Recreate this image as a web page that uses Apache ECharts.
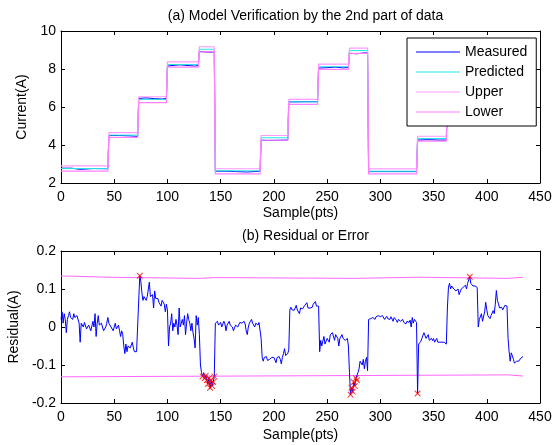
<!DOCTYPE html>
<html>
<head>
<meta charset="utf-8">
<script src="https://cdn.jsdelivr.net/npm/echarts/dist/echarts.min.js"></script>
<style>
html,body{margin:0;padding:0;background:#fff;}
#chart{width:555px;height:445px;}
</style>
</head>
<body>
<div id="chart"></div>
<script>
// ---------- Data (a): current ----------
var stepX = [0,44,45,72,73,99,100,129,130,144,145,187,188,213,214,241,242,270,271,288,289,334,335,362,363,390,391,419,420,434];
var predicted = [2.76,2.76,4.52,4.52,6.4,6.4,8.24,8.24,9.04,9.04,2.64,2.64,4.38,4.38,6.27,6.27,8.12,8.12,8.97,8.97,2.62,2.62,4.34,4.34,6.25,6.25,8.08,8.08,8.95,8.95];
var upper = [2.9,2.9,4.65,4.65,6.54,6.54,8.38,8.38,9.17,9.17,2.75,2.75,4.5,4.5,6.4,6.4,8.26,8.26,9.1,9.1,2.74,2.74,4.46,4.46,6.38,6.38,8.2,8.2,9.08,9.08];
var lower = [2.62,2.62,4.4,4.4,6.23,6.23,8.1,8.1,8.9,8.9,2.48,2.48,4.25,4.25,6.14,6.14,7.98,7.98,8.82,8.82,2.48,2.48,4.2,4.2,6.12,6.12,7.95,7.95,8.82,8.82];
var measured = [[0,2.78],[10,2.78],[18,2.72],[30,2.76],[44,2.75],
 [45,4.5],[55,4.5],[65,4.48],[72,4.45],
 [73,6.45],[80,6.48],[88,6.44],[95,6.42],[99,6.45],
 [100,8.15],[107,8.2],[112,8.22],[120,8.18],[126,8.15],[129,8.2],
 [130,8.92],[135,8.9],[140,8.88],[144,8.9],
 [145,2.62],[155,2.62],[165,2.6],[175,2.58],[187,2.62],
 [188,4.25],[195,4.24],[205,4.25],[213,4.26],
 [214,6.27],[222,6.27],[230,6.28],[241,6.28],
 [242,8.05],[250,8.07],[258,8.1],[265,8.06],[270,8.08],
 [271,8.83],[278,8.8],[285,8.85],[288,8.85],
 [289,2.6],[300,2.6],[315,2.6],[334,2.6],
 [335,4.26],[345,4.28],[355,4.26],[362,4.26],
 [363,6.3],[380,6.32],[390,6.3],
 [391,8.05],[405,8.1],[419,8.05],
 [420,8.87],[434,8.87]];

// ---------- Data (b): residual ----------
var residual = [[0,0.02],[1,0.04],[2,0.01],[3,0.035],[4,0.02],[5,-0.015],[6,0.02],[7,0.03],[8,0.04],[9,0.025],[10,0.03],[11,0.02],[12,0.035],[13,0.025],[14,0.02],[15,0.03],[16,0.035],[17,0.01],[18,-0.04],[19,0.01],[20,0.005],[21,0.0],[22,0.012],[23,0.01],[24,-0.005],[25,-0.01],[26,0.005],[27,0.0],[28,-0.01],[29,-0.005],[30,0.015],[31,0.0],[32,0.035],[33,-0.025],[34,0.01],[35,0.03],[36,0.005],[37,0.0],[38,0.01],[39,0.005],[40,-0.01],[41,-0.005],[42,0.0],[43,0.01],[44,0.025],[45,0.01],[46,0.015],[47,0.0],[48,0.005],[49,-0.01],[50,-0.015],[51,0.01],[52,-0.005],[53,0.0],[54,0.005],[55,-0.01],[56,-0.025],[57,-0.01],[58,-0.02],
 [59,-0.05],[60,-0.07],[61,-0.045],[62,-0.065],[63,-0.05],[64,-0.045],[65,-0.055],[66,-0.06],[67,-0.04],[68,-0.055],[69,-0.065],[70,-0.06],[71,-0.065],[72,-0.06],
 [74,0.135],[75,0.12],[76,0.09],[77,0.07],[78,0.08],[79,0.075],[80,0.07],[81,0.08],[82,0.075],[83,0.118],[84,0.08],[85,0.075],[86,0.085],[87,0.05],[88,0.095],[89,0.075],[90,0.07],[91,0.075],[92,0.065],[93,0.07],[94,0.055],[95,0.07],[96,0.065],[97,0.06],[98,0.04],[99,0.06],
 [100,0.045],[101,-0.05],[102,0.0],[103,0.01],[104,0.035],[105,-0.01],[106,0.01],[107,0.0],[108,0.02],[109,0.005],[110,-0.02],[111,0.05],[112,0.0],[113,0.01],[114,0.02],[115,0.005],[116,0.03],[117,-0.02],[118,0.01],[119,0.035],[120,0.02],[121,0.01],[122,-0.01],[123,0.01],[124,-0.015],[125,-0.03],[126,-0.055],[127,0.03],[128,0.005],[129,0.025],
 [130,-0.02],[131,-0.1],[132,-0.12],[133,-0.13],[134,-0.12],[135,-0.135],[136,-0.128],[137,-0.14],[138,-0.15],[139,-0.135],[140,-0.16],[141,-0.14],[142,-0.155],[143,-0.145],[144,-0.13],
 [145,0.01],[146,0.012],[147,0.015],[148,0.005],[149,0.01],[150,0.012],[151,0.0],[152,0.005],[153,0.015],[154,0.008],[155,-0.01],[156,0.005],[157,0.01],[158,0.015],[159,0.005],[160,0.01],[161,0.0],[162,-0.01],[163,-0.015],[164,0.005],[165,0.01],[166,0.0],[167,0.005],[168,0.012],[169,0.015],[170,0.01],[171,0.005],[172,0.015],[173,0.008],[174,-0.01],[175,-0.02],[176,0.0],[177,0.01],[178,0.015],[179,0.02],[180,0.01],[181,0.005],[182,0.0],[183,0.01],[184,0.015],[185,0.005],[186,0.012],[187,0.008],
 [188,-0.03],[189,-0.08],[190,-0.09],[191,-0.08],[192,-0.085],[193,-0.078],[194,-0.088],[195,-0.09],[196,-0.085],[197,-0.09],[198,-0.08],[199,-0.075],[200,-0.08],[201,-0.085],[202,-0.094],[203,-0.08],[204,-0.085],[205,-0.078],[206,-0.085],[207,-0.097],[208,-0.08],[209,-0.07],[210,-0.057],[211,-0.075],[212,-0.08],[213,-0.07],[214,-0.06],
 [215,0.045],[216,0.052],[217,0.045],[218,0.05],[219,0.044],[220,0.05],[221,0.057],[222,0.045],[223,0.05],[224,0.035],[225,0.05],[226,0.055],[227,0.048],[228,0.05],[229,0.057],[230,0.055],[231,0.064],[232,0.05],[233,0.055],[234,0.05],[235,0.055],[236,0.052],[237,0.06],[238,0.058],[239,0.067],[240,0.055],[241,0.06],[242,0.055],
 [243,-0.065],[244,-0.035],[245,-0.05],[246,-0.055],[247,-0.025],[248,-0.045],[249,-0.05],[250,-0.03],[251,-0.035],[252,-0.04],[253,-0.02],[254,-0.025],[255,-0.015],[256,-0.01],[257,-0.035],[258,-0.02],[259,-0.015],[260,-0.03],[261,-0.05],[262,-0.03],[263,-0.025],[264,-0.02],[265,-0.03],[266,-0.025],[267,-0.035],[268,-0.04],[269,-0.03],[270,-0.05],
 [271,-0.12],[272,-0.178],[273,-0.16],[274,-0.17],[275,-0.145],[276,-0.155],[277,-0.135],[278,-0.14],[279,-0.12],[280,-0.11],[281,-0.09],[282,-0.085],[283,-0.1],[284,-0.085],[285,-0.11],[286,-0.09],[287,-0.08],[288,-0.115],
 [289,0.02],[290,0.018],[291,0.022],[292,0.02],[293,0.025],[294,0.022],[295,0.02],[296,0.027],[297,0.025],[298,0.03],[299,0.025],[300,0.027],[301,0.022],[302,0.03],[303,0.025],[304,0.02],[305,0.025],[306,0.028],[307,0.022],[308,0.025],[309,0.02],[310,0.027],[311,0.022],[312,0.015],[313,0.025],[314,0.02],[315,0.018],[316,0.012],[317,0.02],[318,0.022],[319,0.015],[320,0.018],[321,0.02],[322,0.012],[323,0.015],[324,0.008],[325,0.015],[326,0.02],[327,0.012],[328,0.018],[329,0.0],[330,0.025],[331,0.01],[332,0.02],[333,0.015],[334,0.012],
 [335,-0.175],[336,-0.045],[337,-0.04],[338,-0.038],[339,-0.03],[340,-0.025],[341,-0.015],[342,-0.02],[343,-0.03],[344,-0.025],[345,-0.02],[346,-0.035],[347,-0.04],[348,-0.03],[349,-0.036],[350,-0.03],[351,-0.04],[352,-0.035],[353,-0.03],[354,-0.04],[355,-0.045],[356,-0.04],[357,-0.035],[358,-0.04],[359,-0.045],[360,-0.04],[361,-0.045],[362,-0.045],
 [363,0.05],[364,0.105],[365,0.115],[366,0.1],[367,0.108],[368,0.11],[369,0.1],[370,0.105],[371,0.095],[372,0.09],[373,0.1],[374,0.085],[375,0.09],[376,0.1],[377,0.095],[378,0.105],[379,0.1],[380,0.11],[381,0.1],[382,0.115],[383,0.12],[384,0.132],[385,0.115],[386,0.11],[387,0.108],[388,0.105],[389,0.108],[390,0.105],[391,0.104],
 [392,0.0],[393,0.02],[394,0.025],[395,0.035],[396,0.015],[397,0.02],[398,0.04],[399,0.065],[400,0.045],[401,0.03],[402,0.025],[403,0.022],[404,0.03],[405,0.035],[406,0.043],[407,0.035],[408,0.06],[409,0.096],[410,0.07],[411,0.061],[412,0.05],[413,0.048],[414,0.052],[415,0.045],[416,0.043],[417,0.057],[418,0.052],[419,0.055],
 [420,-0.03],[421,-0.065],[422,-0.09],[423,-0.068],[424,-0.075],[425,-0.085],[426,-0.095],[427,-0.097],[428,-0.09],[429,-0.085],[430,-0.09],[431,-0.088],[432,-0.082],[433,-0.08],[434,-0.078]];
var resUpper = [[0,0.134],[8,0.134],[9,0.131],[44,0.131],[45,0.128],[128,0.128],[129,0.13],[145,0.13],[146,0.128],[276,0.128],[277,0.131],[335,0.131],[336,0.128],[420,0.128],[421,0.131],[434,0.131]];
var resLower = [[0,-0.131],[8,-0.131],[9,-0.126],[420,-0.126],[421,-0.129],[434,-0.129]];
var alarmHigh = 0.128, alarmLow = -0.125;

// ---------- Ticks / labels ----------
var xTicks = {min: 0, max: 450, interval: 50};
var y1Ticks = {min: 2, max: 10, interval: 2};
var y2Ticks = {min: -0.2, max: 0.2, interval: 0.1};
var titles = ['(a) Model Verification by the 2nd part of data', '(b) Residual or Error'];
var legendNames = ['Measured', 'Predicted', 'Upper', 'Lower'];

// ---------- Build ----------
function pairs(xs, ys) { return xs.map(function (x, i) { return [x, ys[i]]; }); }
var alarms = residual.filter(function (p) { return p[1] > alarmHigh || p[1] < alarmLow; });

var FONT = 'Liberation Sans, Arial, Helvetica, sans-serif';
var black = '#000';
function axisBase(extra) {
  var a = {
    type: 'value',
    axisLine: {show: true, onZero: false, lineStyle: {color: black, width: 1}},
    axisTick: {show: true, inside: true, length: 4, lineStyle: {color: black, width: 1}},
    axisLabel: {show: true, color: black, fontSize: 14, fontFamily: FONT},
    splitLine: {show: false},
    nameTextStyle: {color: black, fontSize: 14, fontFamily: FONT}
  };
  for (var k in extra) a[k] = extra[k];
  return a;
}
function noLabel(a) { a.axisLabel = {show: false}; return a; }

var chart = echarts.init(document.getElementById('chart'), null, {renderer: 'canvas'});
var crossPath = 'path://M0,0L1.2,0L5,3.8L8.8,0L10,0L10,1.2L6.2,5L10,8.8L10,10L8.8,10L5,6.2L1.2,10L0,10L0,8.8L3.8,5L0,1.2Z';
// thin horizontal line icon inside a 44x14 box (degenerate moves keep the box size)
var lineIcon = 'path://M0,0L0,0.01M0,6.5L44,6.5L44,7.5L0,7.5ZM44,14L44,13.99';
var seriesColors = ['#0000ff', '#22e5e5', '#ff99ff', '#ff80ff'];

function legendItem(name, i) {
  return {name: name, icon: lineIcon, itemStyle: {color: seriesColors[i], borderWidth: 0}};
}

chart.setOption({
  animation: false,
  backgroundColor: '#fff',
  textStyle: {fontFamily: FONT},
  title: [
    {text: titles[0], left: 300.5, textAlign: 'center', top: 4, textStyle: {fontSize: 14, fontWeight: 'normal', color: black, fontFamily: FONT}},
    {text: titles[1], left: 300.5, textAlign: 'center', top: 224, textStyle: {fontSize: 14, fontWeight: 'normal', color: black, fontFamily: FONT}}
  ],
  grid: [
    {left: 61, top: 31, width: 479, height: 152, outerBoundsMode: 'none', containLabel: false},
    {left: 61, top: 251, width: 479, height: 152, outerBoundsMode: 'none', containLabel: false}
  ],
  legend: {
    data: legendNames.map(legendItem),
    orient: 'vertical',
    left: 407,
    top: 38,
    z: 20,
    itemWidth: 44,
    itemHeight: 14,
    itemGap: 6,
    padding: [7, 9, 7, 9],
    backgroundColor: '#fff',
    borderColor: black,
    borderWidth: 1,
    borderRadius: 0,
    selectedMode: false,
    itemStyle: {borderWidth: 0},
    lineStyle: {width: 0},
    textStyle: {color: black, fontSize: 14, fontFamily: FONT}
  },
  xAxis: [
    axisBase({gridIndex: 0, position: 'bottom', min: xTicks.min, max: xTicks.max, interval: xTicks.interval,
      name: 'Sample(pts)', nameLocation: 'middle', nameGap: 23, axisLabel: {color: black, fontSize: 14, fontFamily: FONT, margin: 7}}),
    noLabel(axisBase({gridIndex: 0, position: 'top', min: xTicks.min, max: xTicks.max, interval: xTicks.interval})),
    axisBase({gridIndex: 1, position: 'bottom', min: xTicks.min, max: xTicks.max, interval: xTicks.interval,
      name: 'Sample(pts)', nameLocation: 'middle', nameGap: 25, axisLabel: {color: black, fontSize: 14, fontFamily: FONT, margin: 7}}),
    noLabel(axisBase({gridIndex: 1, position: 'top', min: xTicks.min, max: xTicks.max, interval: xTicks.interval}))
  ],
  yAxis: [
    axisBase({gridIndex: 0, position: 'left', min: y1Ticks.min, max: y1Ticks.max, interval: y1Ticks.interval,
      name: 'Current(A)', nameLocation: 'middle', nameGap: 23, axisLabel: {color: black, fontSize: 14, fontFamily: FONT, margin: 5}}),
    noLabel(axisBase({gridIndex: 0, position: 'right', min: y1Ticks.min, max: y1Ticks.max, interval: y1Ticks.interval})),
    axisBase({gridIndex: 1, position: 'left', min: y2Ticks.min, max: y2Ticks.max, interval: y2Ticks.interval,
      name: 'Residual(A)', nameLocation: 'middle', nameGap: 33,
      axisLabel: {color: black, fontSize: 14, fontFamily: FONT, margin: 5, formatter: function (v) { return String(Math.round(v * 10) / 10); }}}),
    noLabel(axisBase({gridIndex: 1, position: 'right', min: y2Ticks.min, max: y2Ticks.max, interval: y2Ticks.interval}))
  ],
  series: [
    {name: 'Measured', type: 'line', xAxisIndex: 0, yAxisIndex: 0, data: measured, symbol: 'none', lineStyle: {color: seriesColors[0], width: 1}, itemStyle: {color: seriesColors[0]}, z: 2},
    {name: 'Predicted', type: 'line', xAxisIndex: 0, yAxisIndex: 0, data: pairs(stepX, predicted), symbol: 'none', lineStyle: {color: seriesColors[1], width: 1}, itemStyle: {color: seriesColors[1]}, z: 3},
    {name: 'Upper', type: 'line', xAxisIndex: 0, yAxisIndex: 0, data: pairs(stepX, upper), symbol: 'none', lineStyle: {color: seriesColors[2], width: 1.2}, itemStyle: {color: seriesColors[2]}, z: 4},
    {name: 'Lower', type: 'line', xAxisIndex: 0, yAxisIndex: 0, data: pairs(stepX, lower), symbol: 'none', lineStyle: {color: seriesColors[3], width: 1.2}, itemStyle: {color: seriesColors[3]}, z: 4},
    {name: 'Residual', type: 'line', xAxisIndex: 2, yAxisIndex: 2, data: residual, symbol: 'none', lineStyle: {color: '#0000ff', width: 1}, z: 3},
    {name: 'ResUpper', type: 'line', xAxisIndex: 2, yAxisIndex: 2, data: resUpper, symbol: 'none', lineStyle: {color: '#ff66ff', width: 1}, z: 2},
    {name: 'ResLower', type: 'line', xAxisIndex: 2, yAxisIndex: 2, data: resLower, symbol: 'none', lineStyle: {color: '#ff66ff', width: 1}, z: 2},
    {name: 'Alarm', type: 'scatter', xAxisIndex: 2, yAxisIndex: 2, data: alarms, symbol: crossPath, symbolSize: 6, itemStyle: {color: '#ff0000'}, z: 4}
  ]
});
</script>
</body>
</html>
